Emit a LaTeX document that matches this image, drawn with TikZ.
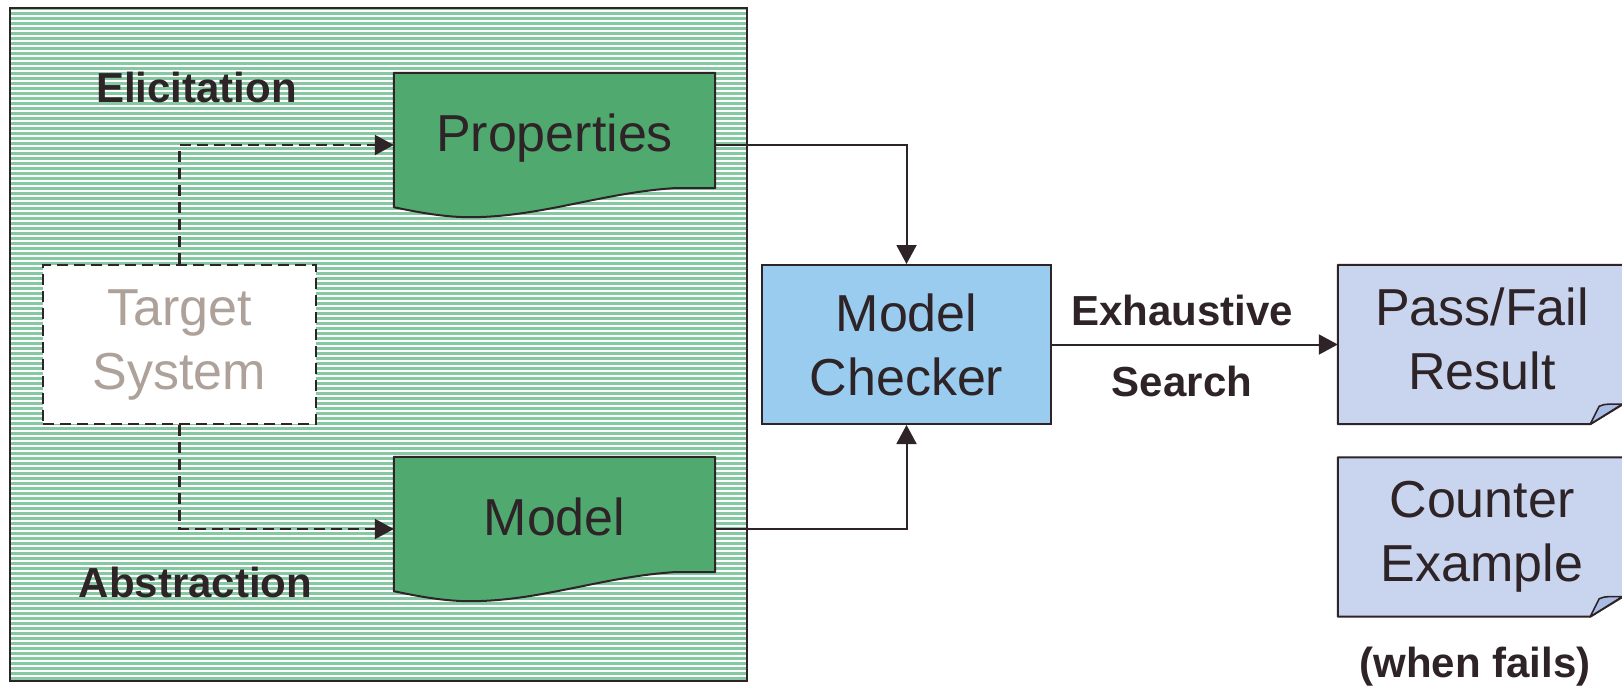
\documentclass[tikz,border=0pt]{standalone}
\usepackage{fontspec}
\setmainfont{Liberation Sans}
\usetikzlibrary{arrows.meta,calc}
\definecolor{ink}{HTML}{2E2326}
\definecolor{stripe}{HTML}{86C8A2}
\definecolor{docgreen}{HTML}{50AA70}
\definecolor{mcblue}{HTML}{99CCEE}
\definecolor{resblue}{HTML}{C9D5EE}
\definecolor{flapblue}{HTML}{A8BCE6}
\definecolor{tsgrey}{HTML}{ADA199}
\pgfdeclarelayer{bg}\pgfdeclarelayer{shapes}\pgfsetlayers{bg,shapes,main}
\tikzset{
 big/.style={font=\fontsize{52}{64}\selectfont, text=ink, align=center},
 lbl/.style={font=\fontsize{42}{50}\selectfont\bfseries, text=ink, inner sep=0pt},
 panel/.style={fill=stripe, minimum width=737pt, minimum height=673pt, inner sep=0pt},
 docnode/.style={big, minimum width=321pt, minimum height=144pt, inner sep=0pt, text depth=25pt},
 docshape/.style={fill=docgreen, draw=ink, line width=2pt, line join=round},
 mcbox/.style={big, draw=ink, fill=mcblue, line width=2pt, minimum width=289pt, minimum height=159pt, inner sep=0pt},
 tsbox/.style={big, text=tsgrey, draw=ink, fill=white, line width=2.2pt, dash pattern=on 11pt off 6pt, minimum width=273pt, minimum height=159pt, inner sep=0pt},
 foldnode/.style={big, minimum width=288pt, minimum height=159pt, inner sep=0pt, text depth=11pt},
 foldshape/.style={fill=resblue, draw=ink, line width=2pt, line join=round},
 flapshape/.style={fill=flapblue, draw=ink, line width=1.6pt, line join=round},
 conn/.style={draw=ink, line width=2pt, -{Triangle[length=19pt,width=20pt]}},
 dconn/.style={conn, line width=2.2pt, dash pattern=on 11pt off 6pt},
}
\begin{document}
\begin{tikzpicture}[x=1pt,y=-1pt]
\useasboundingbox (0,0) rectangle (1622,686);
% background panel
\begin{pgfonlayer}{bg}
\node[panel] (panel) at (378.5,344.5) {};
\begin{scope}
\clip (panel.south west) rectangle (panel.north east);
\foreach \yy in {11,16,...,681} \draw[white, line width=1.1pt] (0,\yy) -- (760,\yy);
\end{scope}
\draw[ink, line width=2pt] (panel.south west) rectangle (panel.north east);
\end{pgfonlayer}
% labels
\node[lbl] (elic) at (196.5,87) {Elicitation};
\node[lbl] (abst) at (195.5,582) {Abstraction};
\node[lbl] (exh) at (1182,310) {Exhaustive};
\node[lbl] (srch) at (1182,381) {Search};
\node[lbl] (whenf) at (1475,666.5) {(when fails)};
% nodes
\node[docnode] (prop) at (554.5,145) {Properties};
\node[docnode] (model) at (554.5,529) {Model};
\node[tsbox] (ts) at (179.5,344.5) {Target\\System};
\node[mcbox] (mc) at (906.5,344.5) {Model\\Checker};
\node[foldnode] (pf) at (1482,344.5) {Pass/Fail\\Result};
\node[foldnode] (ce) at (1482,537) {Counter\\Example};
% shapes behind the texts
\begin{pgfonlayer}{shapes}
\foreach \n in {prop,model}{
\path[docshape] (\n.north west) -- (\n.north east) -- ([yshift=29pt]\n.south east)
  -- ([xshift=-42pt,yshift=29pt]\n.south east) .. controls +(-73,5) and +(70,0) .. ([xshift=76pt]\n.south west)
  .. controls +(-30,0) and +(15,3) .. ([yshift=10pt]\n.south west) -- cycle;
}
\foreach \n in {pf,ce}{
\path[foldshape] (\n.north west) -- (\n.north east) -- ([yshift=22pt]\n.south east)
  -- ([xshift=-36pt]\n.south east) -- (\n.south west) -- cycle;
\path[flapshape] ([xshift=-36pt]\n.south east) -- ([xshift=-27pt,yshift=18pt]\n.south east)
  .. controls +(6,-3) and +(-10,0) .. ([xshift=-4pt,yshift=20pt]\n.south east) -- cycle;
}
\end{pgfonlayer}
% connectors
\draw[dconn] (ts.north) |- (prop.west);
\draw[dconn] (ts.south) |- (model.west);
\draw[conn] (prop.east) -| (mc.north);
\draw[conn] (model.east) -| (mc.south);
\draw[conn] (mc.east) -- (pf.west);
\end{tikzpicture}
\end{document}
